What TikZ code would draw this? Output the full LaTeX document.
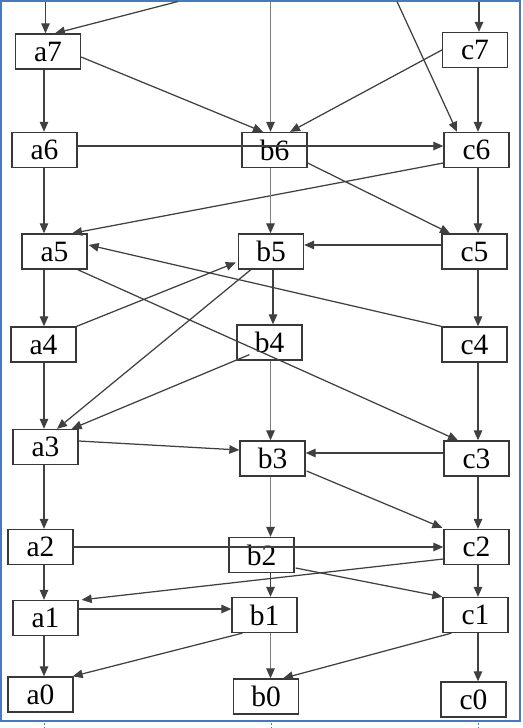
\documentclass[tikz,border=0pt]{standalone}
\usepackage{fontspec}
\setmainfont{Liberation Serif}
\usetikzlibrary{arrows.meta,calc}
\definecolor{edgec}{HTML}{404040}
\definecolor{lightedge}{HTML}{7E7E7E}
\definecolor{boxc}{HTML}{383838}
\definecolor{framec}{HTML}{4A78C0}
\begin{document}
\begin{tikzpicture}[x=1pt,y=-1pt,
  box/.style={draw=boxc, line width=1.3pt, minimum width=65pt, minimum height=35pt, inner sep=0pt, font=\fontsize{29.5}{29.5}\selectfont},
  edge/.style={draw=edgec, line width=1.25pt, -{Triangle[length=10pt,width=8.5pt,color=edgec]}},
  ledge/.style={edge, draw=lightedge},
  tick/.style={draw=framec, line width=0.8pt, dash pattern=on 2pt off 1.5pt}]
\useasboundingbox (0,0) rectangle (522,728);
\draw[framec, line width=1.2pt] (1,1) rectangle (520,721);
\draw[tick] (44,723) -- (44,728);
\draw[tick] (271,723) -- (271,728);
\draw[tick] (478,723) -- (478,728);

\coordinate (xa) at (44,0);
\coordinate (xb) at (270.5,0);
\coordinate (xc) at (478,0);
\coordinate (ta) at (45.5,1.5);
\coordinate (tb) at (178,1.5);
\coordinate (tc) at (270.5,1.5);
\coordinate (td) at (397,1.5);
\coordinate (te) at (479,1.5);

\node[box] (a7) at (48,51.5) {a7};
\node[box] (c7) at (475,50) {c7};
\node[box] (a6) at (44.5,150) {a6};
\node[box] (b6) at (274.5,150) {b6};
\node[box] (c6) at (476.5,150) {c6};
\node[box] (a5) at (54.5,251.5) {a5};
\node[box] (b5) at (271,251.5) {b5};
\node[box] (c5) at (474.5,251.5) {c5};
\node[box] (a4) at (43.5,344.5) {a4};
\node[box] (b4) at (269.5,342.5) {b4};
\node[box] (c4) at (474.5,344.5) {c4};
\node[box] (a3) at (45.5,447) {a3};
\node[box] (b3) at (272.5,458.5) {b3};
\node[box] (c3) at (476.5,458.5) {c3};
\node[box] (a2) at (40.5,547) {a2};
\node[box] (b2) at (261.5,555) {\raisebox{-3pt}{b2}};
\node[box] (c2) at (476.5,547) {c2};
\node[box] (a1) at (45.5,618) {a1};
\node[box] (b1) at (264.5,615) {b1};
\node[box] (c1) at (475.5,615) {c1};
\node[box] (a0) at (40.5,694.5) {a0};
\node[box] (b0) at (266,696.5) {b0};
\node[box] (c0) at (473.5,699.5) {c0};

% from the top
\draw[edge] (ta) -- (ta |- a7.north);
\draw[edge] (tb) -- ($(a7.north)+(7,0)$);
\draw[ledge] (tc) -- (tc |- b6.north);
\draw[edge] (td) -- ($(c6.north)+(-19.5,0)$);
\draw[edge] (te) -- (te |- c7.north);

% level 7 -> 6
\draw[edge] (a7.south -| xa) -- (a6.north -| xa);
\draw[edge] ($(a7.east)+(0,5.5)$) -- ($(b6.north)+(-11.5,0)$);
\draw[edge] (c7.west) -- ($(b6.north)+(15.5,0)$);
\draw[edge] (c7.south -| xc) -- (c6.north -| xc);
\draw[edge] ($(a6.east)+(0,-4)$) -- ($(c6.west)+(0,-4)$);

% level 6 -> 5
\draw[edge] ($(b6.east)+(0,13)$) -- ($(c5.north)+(-24.5,0)$);
\draw[edge] ($(c6.west)+(0,13)$) -- ($(a5.north)+(17.5,0)$);
\draw[ledge] (b6.south -| xb) -- (b5.north -| xb);
\draw[edge] (c6.south -| xc) -- (c5.north -| xc);
\draw[edge] (a6.south -| xa) -- (a5.north -| xa);
\draw[edge] ($(c5.west)+(0,-6.5)$) -- ($(b5.east)+(0,-6.5)$);

% level 5 -> 4 and longer
\draw[edge] (c4.north west) -- ($(a5.east)+(1,-6.5)$);
\draw[edge] ($(a5.south east)+(-10,0)$) -- ($(c3.north)+(-18.5,0)$);
\draw[edge] (a4.north east) -- ($(b5.west)+(-2,11)$);
\draw[edge] ($(b5.south west)+(13,0)$) -- ($(a3.north)+(11.5,0)$);
\draw[edge] ($(b4.south west)+(13,-6)$) -- ($(a3.north east)+(-7,0)$);
\draw[edge] ($(b5.south)+(2,0)$) -- ($(b4.north)+(3.5,0)$);
\draw[edge] (a5.south -| xa) -- (a4.north -| xa);
\draw[edge] (c5.south -| xc) -- (c4.north -| xc);

% level 4 -> 3
\draw[edge] (a4.south -| xa) -- (a3.north -| xa);
\draw[ledge] (b4.south -| xb) -- (b3.north -| xb);
\draw[edge] (c4.south -| xc) -- (c3.north -| xc);
\draw[edge] ($(a3.east)+(0,-6)$) -- ($(b3.west)+(0,-8.5)$);
\draw[edge] ($(c3.west)+(0,-5.5)$) -- ($(b3.east)+(0,-5.5)$);

% level 3 -> 2
\draw[edge] ($(b3.east)+(1,12.5)$) -- ($(c2.north west)+(-1,-1)$);
\draw[edge] (a3.south -| xa) -- (a2.north -| xa);
\draw[ledge] (b3.south -| xb) -- (b2.north -| xb);
\draw[edge] (c3.south -| xc) -- (c2.north -| xc);
\draw[edge] (a2.east) -- (c2.west);

% level 2 -> 1
\draw[edge] ($(c2.west)+(0,12)$) -- ($(a1.north east)+(3,0)$);
\draw[edge] ($(b2.east)+(1,13)$) -- (c1.north west);
\draw[edge] (b2.south -| xb) -- (b1.north -| xb);
\draw[edge] (a2.south -| xa) -- (a1.north -| xa);
\draw[edge] (c2.south -| xc) -- (c1.north -| xc);
\draw[edge] ($(a1.east)+(0,-9)$) -- ($(b1.west)+(0,-6)$);

% level 1 -> 0
\draw[edge] (a1.south -| xa) -- (a0.north -| xa);
\draw[edge] ($(b1.south west)+(11,0)$) -- ($(a0.north east)+(-1,0)$);
\draw[ledge] (b1.south -| xb) -- (b0.north -| xb);
\draw[edge] ($(c1.south west)+(9,0)$) -- ($(b0.north)+(17,0)$);
\draw[edge] (c1.south -| xc) -- (c0.north -| xc);
\end{tikzpicture}
\end{document}
